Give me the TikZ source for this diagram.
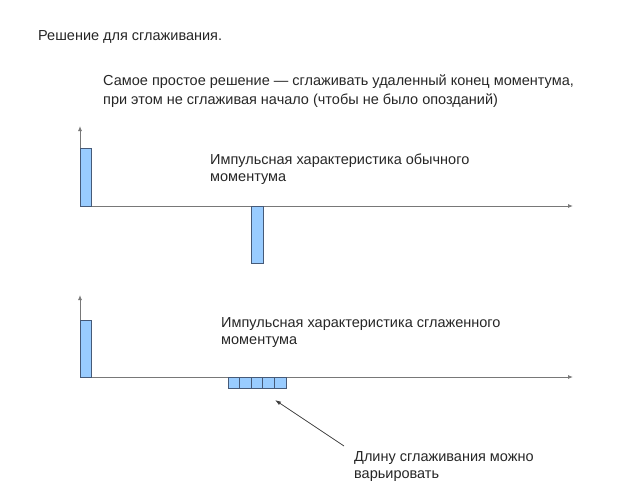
\documentclass[tikz,border=0pt]{standalone}
\usepackage{fontspec}
\setmainfont{Liberation Sans}
\usetikzlibrary{arrows.meta}
\definecolor{barfill}{RGB}{153,204,255}
\definecolor{barline}{RGB}{70,90,120}
\definecolor{axisgray}{RGB}{120,120,120}
\tikzset{
  axis/.style={draw=axisgray, line width=0.9pt, -{Latex[length=5pt,width=4pt]}},
  bar/.style={draw=barline, fill=barfill, line width=0.7pt},
  lbl/.style={anchor=base west, inner sep=0pt, align=left, font=\fontsize{14.5}{17}\selectfont, text=black!85},
  pointer/.style={draw=black!75, line width=0.8pt, -{Latex[length=6pt,width=4pt]}}
}
\begin{document}
\begin{tikzpicture}[x=1pt,y=-1pt]
\useasboundingbox (0,0) rectangle (640,480);
% titles
\node[lbl] (title) at (38,40) {Решение для сглаживания.};
\node[lbl, font=\fontsize{14.5}{19}\selectfont] (intro) at (103,104) {Самое простое решение — сглаживать удаленный конец моментума,\\при этом не сглаживая начало (чтобы не было опозданий)};
% top chart
\coordinate (o1) at (80,206);
\coordinate (y1) at (80,126);
\coordinate (x1) at (573,206);
\draw[axis] (o1) -- (y1);
\draw[axis] (o1) -- (x1);
\draw[bar] (80,148) rectangle (91,206);
\draw[bar] (251,206) rectangle (263,263);
\node[lbl] (l1) at (210,181) {Импульсная характеристика обычного\\моментума};
% bottom chart
\coordinate (o2) at (80,377);
\coordinate (y2) at (80,295);
\coordinate (x2) at (573,377);
\draw[axis] (o2) -- (y2);
\draw[axis] (o2) -- (x2);
\draw[bar] (80,320) rectangle (91,377);
\foreach \i in {0,...,4}{
  \draw[bar] ({228+11.6*\i},377) rectangle ({228+11.6*(\i+1)},388);
}
\coordinate (tip) at (275,400);
\node[lbl] (l2) at (221,344) {Импульсная характеристика сглаженного\\моментума};
\node[lbl] (l3) at (354,478) {Длину сглаживания можно\\варьировать};
\coordinate (tail) at (344,446);
\draw[pointer] (tail) -- (tip);
\end{tikzpicture}
\end{document}
